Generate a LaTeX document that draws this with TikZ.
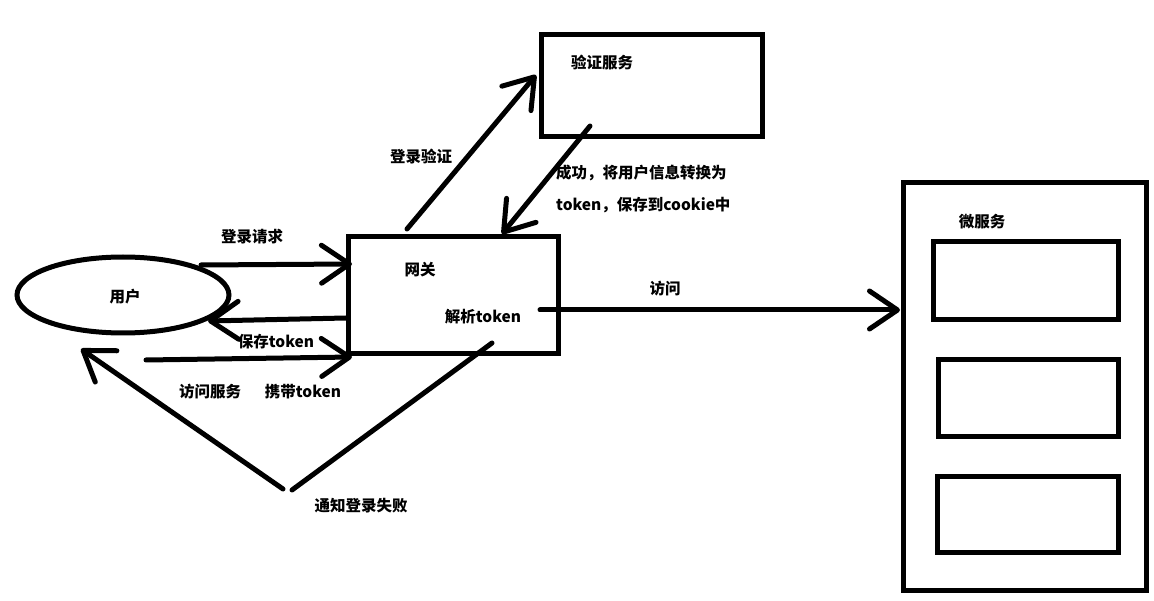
\documentclass[tikz,border=0pt]{standalone}
\usepackage{fontspec}
\setmainfont{Noto Sans CJK SC}
\usetikzlibrary{arrows.meta}
\begin{document}
\begin{tikzpicture}[x=1pt,y=-1pt,
  ln/.style={line width=5pt,line cap=round,line join=round},
  arr/.style={ln,-{Straight Barb[length=28pt,width=38pt,line width=5pt,round]}},
  bx/.style={draw,line width=5pt,inner sep=0pt},
  lbl/.style={font=\fontsize{15.5}{18}\selectfont\bfseries,inner sep=0pt},
  lbll/.style={lbl,anchor=west}]
\useasboundingbox (0,0) rectangle (1154,601);
% nodes
\draw[line width=5pt] (123,295) ellipse [x radius=106, y radius=38];
\coordinate (user) at (123,295);
\node[lbl] (userl) at (125,297) {用户};
\node[bx,minimum width=210pt,minimum height=117pt] (gw) at (453,295.5) {};
\node[lbl] (gwl) at (420,270) {网关};
\node[lbl] (parse) at (483,317) {解析token};
\node[bx,minimum width=221pt,minimum height=102pt] (auth) at (651.5,86) {};
\node[lbl] (authl) at (602,63) {验证服务};
\node[bx,minimum width=243pt,minimum height=407pt] (ms) at (1024.5,386.5) {};
\node[lbl] (msl) at (982,222) {微服务};
\node[bx,minimum width=185pt,minimum height=78pt] (ms1) at (1025.5,281) {};
\node[bx,minimum width=180pt,minimum height=76pt] (ms2) at (1028,398) {};
\node[bx,minimum width=181pt,minimum height=76pt] (ms3) at (1027.5,514) {};
% coordinates for connector ends
\coordinate (a1s) at (201,265);
\coordinate (a1e) at (352,264);
\coordinate (a2s) at (346,318);
\coordinate (a2e) at (208,321);
\coordinate (a3s) at (146,360);
\coordinate (a3e) at (352,357);
\coordinate (a4s) at (407,229);
\coordinate (a4e) at (536,75);
\coordinate (a5s) at (590,126);
\coordinate (a5e) at (502,234);
\coordinate (a6s) at (540,310);
\coordinate (a6e) at (900,310);
\coordinate (a7s) at (492,343);
\coordinate (a7m) at (292,490);
\coordinate (a8s) at (283,489);
\coordinate (a8e) at (81,349);
% connectors
\draw[arr] (a1s) -- (a1e);
\draw[arr] (a2s) -- (a2e);
\draw[arr] (a3s) -- (a3e);
\draw[arr] (a4s) -- (a4e);
\draw[arr] (a5s) -- (a5e);
\draw[arr] (a6s) -- (a6e);
\draw[ln] (a7s) -- (a7m);
\draw[arr] (a8s) -- (a8e);
% labels
\node[lbl] (l1) at (252,237) {登录请求};
\node[lbl] (l2) at (276,342) {保存token};
\node[lbl] (l3) at (210,392) {访问服务};
\node[lbl] (l3b) at (303,392) {携带token};
\node[lbl] (l4) at (421,157) {登录验证};
\node[lbll] (l5) at (556,173) {成功，将用户信息转换为};
\node[lbll] (l5b) at (556,205) {token，保存到cookie中};
\node[lbl] (l6) at (665,289) {访问};
\node[lbl] (l7) at (361,506) {通知登录失败};
\end{tikzpicture}
\end{document}
